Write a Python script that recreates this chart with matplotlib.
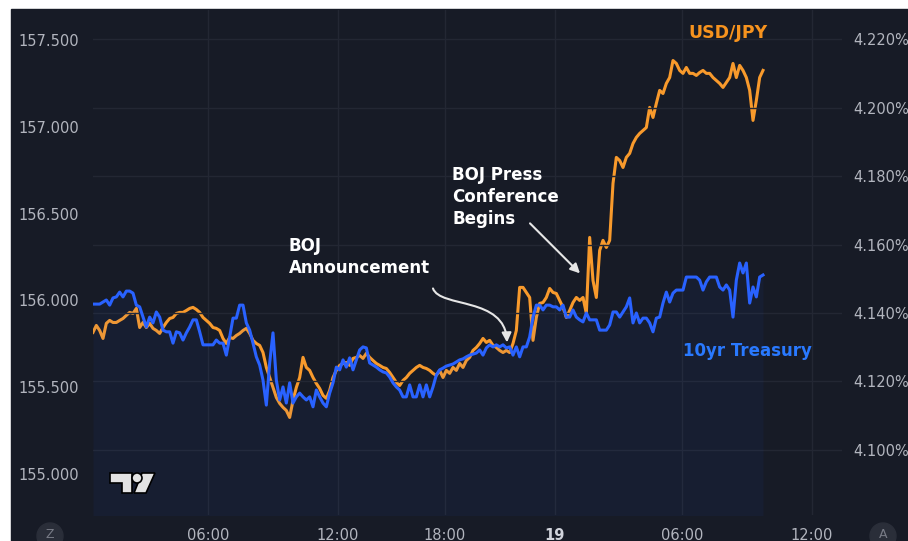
import numpy as np
import matplotlib.pyplot as plt
from matplotlib.patches import Polygon, Circle, Ellipse, Rectangle, FancyArrowPatch
from matplotlib.path import Path

# USD/JPY (left axis), one reading per bar
usdjpy = [
    155.816, 155.856, 155.827, 155.781, 155.868, 155.885, 155.873, 155.873, 155.885, 155.896,
    155.914, 155.931, 155.925, 155.954, 155.844, 155.873, 155.844, 155.868, 155.839, 155.827,
    155.810, 155.844, 155.873, 155.896, 155.902, 155.925, 155.931, 155.931, 155.942, 155.954,
    155.960, 155.948, 155.931, 155.902, 155.885, 155.868, 155.844, 155.839, 155.827, 155.781,
    155.752, 155.787, 155.781, 155.798, 155.810, 155.827, 155.839, 155.810, 155.770, 155.752,
    155.741, 155.700, 155.614, 155.556, 155.499, 155.441, 155.407, 155.384, 155.366, 155.326,
    155.424, 155.499, 155.556, 155.672, 155.614, 155.597, 155.556, 155.522, 155.493, 155.453,
    155.436, 155.482, 155.556, 155.597, 155.626, 155.637, 155.643, 155.626, 155.666, 155.672,
    155.683, 155.666, 155.695, 155.672, 155.654, 155.637, 155.626, 155.614, 155.608, 155.585,
    155.556, 155.528, 155.510, 155.539, 155.556, 155.580, 155.597, 155.614, 155.626, 155.614,
    155.608, 155.597, 155.580, 155.568, 155.597, 155.556, 155.597, 155.580, 155.614, 155.597,
    155.637, 155.614, 155.654, 155.672, 155.712, 155.729, 155.752, 155.781, 155.758, 155.770,
    155.741, 155.729, 155.712, 155.700, 155.712, 155.700, 155.752, 155.827, 156.075, 156.075,
    156.046, 156.017, 155.770, 155.902, 155.983, 155.988, 156.017, 156.069, 156.046, 156.040,
    156.000, 155.960, 155.902, 155.942, 155.988, 156.017, 156.000, 156.017, 155.925, 156.363,
    156.115, 156.017, 156.288, 156.346, 156.305, 156.346, 156.674, 156.824, 156.806, 156.766,
    156.824, 156.847, 156.904, 156.939, 156.962, 156.979, 156.996, 157.112, 157.054, 157.135,
    157.210, 157.192, 157.250, 157.284, 157.382, 157.365, 157.325, 157.308, 157.342, 157.308,
    157.308, 157.296, 157.313, 157.325, 157.308, 157.308, 157.284, 157.267, 157.250, 157.227,
    157.256, 157.284, 157.365, 157.284, 157.354, 157.325, 157.284, 157.210, 157.037, 157.152,
    157.284, 157.325,
]

# 10yr Treasury yield in % (right axis), same bars
treasury = [
    4.1426, 4.1426, 4.1426, 4.1432, 4.1438, 4.1423, 4.1444, 4.1447, 4.1461, 4.1447,
    4.1464, 4.1464, 4.1458, 4.1423, 4.1418, 4.1388, 4.1359, 4.1388, 4.1371, 4.1403,
    4.1388, 4.1350, 4.1345, 4.1345, 4.1312, 4.1345, 4.1342, 4.1321, 4.1342, 4.1359,
    4.1380, 4.1380, 4.1345, 4.1307, 4.1307, 4.1307, 4.1307, 4.1321, 4.1312, 4.1312,
    4.1277, 4.1330, 4.1385, 4.1385, 4.1423, 4.1423, 4.1371, 4.1350, 4.1312, 4.1272,
    4.1248, 4.1204, 4.1131, 4.1254, 4.1342, 4.1204, 4.1146, 4.1184, 4.1137, 4.1196,
    4.1137, 4.1155, 4.1166, 4.1155, 4.1146, 4.1155, 4.1126, 4.1175, 4.1155, 4.1137,
    4.1126, 4.1166, 4.1196, 4.1242, 4.1234, 4.1263, 4.1242, 4.1269, 4.1234, 4.1263,
    4.1292, 4.1301, 4.1298, 4.1254, 4.1248, 4.1242, 4.1234, 4.1228, 4.1225, 4.1213,
    4.1196, 4.1184, 4.1175, 4.1155, 4.1155, 4.1190, 4.1155, 4.1155, 4.1190, 4.1155,
    4.1190, 4.1155, 4.1184, 4.1219, 4.1234, 4.1239, 4.1245, 4.1248, 4.1251, 4.1257,
    4.1263, 4.1266, 4.1272, 4.1277, 4.1280, 4.1283, 4.1292, 4.1277, 4.1298, 4.1307,
    4.1301, 4.1307, 4.1301, 4.1307, 4.1298, 4.1301, 4.1277, 4.1301, 4.1272, 4.1301,
    4.1301, 4.1330, 4.1388, 4.1423, 4.1423, 4.1409, 4.1423, 4.1423, 4.1418, 4.1418,
    4.1409, 4.1423, 4.1388, 4.1388, 4.1409, 4.1388, 4.1380, 4.1374, 4.1400, 4.1380,
    4.1380, 4.1380, 4.1350, 4.1350, 4.1350, 4.1365, 4.1403, 4.1403, 4.1388, 4.1403,
    4.1418, 4.1444, 4.1371, 4.1400, 4.1371, 4.1385, 4.1385, 4.1371, 4.1345, 4.1385,
    4.1388, 4.1429, 4.1461, 4.1432, 4.1458, 4.1467, 4.1467, 4.1467, 4.1505, 4.1505,
    4.1505, 4.1505, 4.1496, 4.1467, 4.1491, 4.1505, 4.1505, 4.1505, 4.1476, 4.1467,
    4.1482, 4.1467, 4.1388, 4.1496, 4.1546, 4.1517, 4.1546, 4.1429, 4.1476, 4.1447,
    4.1505, 4.1511,
]

# time axis (bar positions of the labelled times)
tick_pos = [34.5, 73.5, 105.6, 138.6, 176.7, 215.7]
tick_labels = ["06:00", "12:00", "18:00", "19", "06:00", "12:00"]

jpy_ticks = [155.0, 155.5, 156.0, 156.5, 157.0, 157.5]
tsy_ticks = [4.10, 4.12, 4.14, 4.16, 4.18, 4.20, 4.22]

BG = "#171b26"
GRID = "#232733"
TXT = "#b2b5be"
ORANGE = "#f89a2c"
BLUE = "#2962ff"

W, H = 908, 541


def px(x, y):
    # pixel position -> figure fraction
    return x / W, 1 - y / H


fig = plt.figure(figsize=(W / 100, H / 100), dpi=100, facecolor="white")
fig.add_artist(Rectangle(px(11, H), (W - 11) / W, (H - 9) / H,
                         transform=fig.transFigure, color=BG, zorder=0))

l, b = px(93, 515)
r, t = px(842, 10)
ax = fig.add_axes([l, b, r - l, t - b])
ax2 = ax.twinx()
ax.set_facecolor(BG)

x = np.arange(len(usdjpy))
ax.plot(x, usdjpy, color=ORANGE, lw=2.2, solid_joinstyle="round")
ax2.fill_between(x, treasury, 4.0, color=BLUE, alpha=0.05, lw=0)
ax2.plot(x, treasury, color=BLUE, lw=2.2, solid_joinstyle="round")

ax.set_xlim(0, 224.7)
ax.set_ylim(154.764, 157.673)
ax2.set_ylim(4.081, 4.2285)

ax.set_xticks(tick_pos)
ax.set_xticklabels(tick_labels)
ax.set_yticks(jpy_ticks)
ax.set_yticklabels(["{:.3f}".format(v) for v in jpy_ticks])
ax2.set_yticks(tsy_ticks)
ax2.set_yticklabels(["{:.3f}%".format(v) for v in tsy_ticks])

ax.tick_params(axis="x", length=0, pad=9, labelsize=10.5, colors=TXT)
ax.tick_params(axis="y", length=0, pad=10, labelsize=10.5, colors=TXT)
ax2.tick_params(axis="y", length=0, pad=8, labelsize=10.5, colors=TXT)
ax.get_xticklabels()[3].set_fontweight("bold")
ax.get_xticklabels()[3].set_color("#d1d4dc")

ax.grid(axis="x", color=GRID, lw=1)
ax.grid(axis="y", visible=False)
ax2.grid(axis="y", color=GRID, lw=1)
ax2.set_axisbelow(True)
for a in (ax, ax2):
    for s in a.spines.values():
        s.set_visible(False)

# series labels
fig.text(*px(688, 33), "USD/JPY", color="#f7931e", fontsize=12.5,
         fontweight="bold", va="center")
fig.text(*px(683, 351), "10yr Treasury", color="#2979ff", fontsize=12,
         fontweight="bold", va="center")

# annotations (on top of everything)
fig.text(*px(289, 237), "BOJ\nAnnouncement", color="white", fontsize=12,
         fontweight="bold", va="top", linespacing=1.3, zorder=10)
fig.text(*px(452, 166), "BOJ Press\nConference\nBegins", color="white",
         fontsize=12, fontweight="bold", va="top", linespacing=1.3, zorder=10)

curve = Path([(102.0, 156.069), (104.1, 155.955), (123.6, 156.023), (124.2, 155.758)],
             [Path.MOVETO, Path.CURVE4, Path.CURVE4, Path.CURVE4])
ax2.add_patch(FancyArrowPatch(path=curve, arrowstyle="-|>", mutation_scale=14,
                              color="#e6e6e6", lw=1.5, zorder=5,
                              transform=ax.transData))
ax2.annotate("", xy=(146.1, 156.156), xytext=(131.1, 156.444),
             xycoords=ax.transData, textcoords=ax.transData,
             arrowprops=dict(arrowstyle="-|>", color="#e6e6e6", lw=1.5,
                             mutation_scale=14, shrinkA=0, shrinkB=0))

# corner buttons
for cx, letter in [(50, "Z"), (883, "A")]:
    fig.add_artist(Ellipse(px(cx, 536), 26 / W, 26 / H, transform=fig.transFigure,
                           color="#2a2e39", zorder=3))
    fig.text(*px(cx, 534), letter, color="#787b86", fontsize=9,
             ha="center", va="center", zorder=4)

# logo
logo = dict(transform=fig.transFigure, fc="#e3e3e3", ec="black", lw=1.2, zorder=6)
fig.add_artist(Polygon([px(110, 473), px(132, 473), px(132, 493), px(122, 493),
                        px(122, 483), px(110, 483)], **logo))
fig.add_artist(Polygon([px(142, 473), px(155, 473), px(146, 493), px(134, 493)], **logo))
fig.add_artist(Ellipse(px(137, 478), 10 / W, 10 / H, **logo))

fig.savefig("out.png", dpi=100, facecolor=fig.get_facecolor())
